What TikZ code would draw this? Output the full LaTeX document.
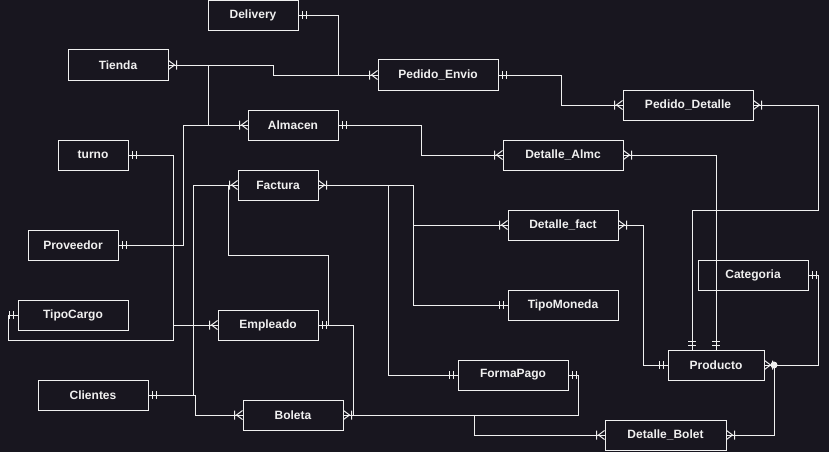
\documentclass[tikz,border=0pt]{standalone}
\usepackage{fontspec}
\setmainfont{Liberation Sans}
\definecolor{bg}{RGB}{24,22,31}
\definecolor{fg}{RGB}{240,240,240}
\begin{document}
\begin{tikzpicture}[x=1pt,y=-1pt,line width=1pt,
  ent/.style={draw=fg,text=fg,font=\bfseries\fontsize{12}{14}\selectfont,minimum height=30pt,inner sep=0pt,line width=1pt},
  conn/.style={draw=fg,line width=1pt},
  erone/.pic={\draw[fg,line width=1pt] (4,-4)--(4,4) (8,-4)--(8,4);},
  ermany/.pic={\draw[fg,line width=1pt] (0,-4.5)--(6,0)--(0,4.5) (8,-4.5)--(8,4.5);}
]
\fill[bg] (0,0) rectangle (829,452);
\useasboundingbox (0,0) rectangle (829,452);

\node[ent,minimum width=90pt] (Delivery) at (253,15.5) {Delivery};
\node[ent,minimum width=100pt] (Tienda) at (118,65) {Tienda};
\node[ent,minimum width=120pt] (PE) at (438,75) {Pedido\_Envio};
\node[ent,minimum width=90pt] (Almacen) at (293,125) {Almacen};
\node[ent,minimum width=70pt] (turno) at (93,155) {turno};
\node[ent,minimum width=80pt] (Factura) at (278,185) {Factura};
\node[ent,minimum width=130pt] (PD) at (688,105) {Pedido\_Detalle};
\node[ent,minimum width=120pt] (DA) at (563,155) {Detalle\_Almc};
\node[ent,minimum width=110pt] (DF) at (563,225) {Detalle\_fact};
\node[ent,minimum width=90pt] (Proveedor) at (73,245) {Proveedor};
\node[ent,minimum width=110pt] (TipoCargo) at (73,315) {TipoCargo};
\node[ent,minimum width=100pt] (Empleado) at (268,325) {Empleado};
\node[ent,minimum width=110pt] (Clientes) at (93,395) {Clientes};
\node[ent,minimum width=100pt] (Boleta) at (293,415) {Boleta};
\node[ent,minimum width=110pt] (Categoria) at (753,275) {Categoria};
\node[ent,minimum width=110pt] (TM) at (563,305) {TipoMoneda};
\node[ent,minimum width=96pt] (Producto) at (716,365) {Producto};
\node[ent,minimum width=110pt] (FP) at (513,375) {FormaPago};
\node[ent,minimum width=121pt] (DB) at (665.5,435) {Detalle\_Bolet};

% connectors
\draw[conn] (Delivery.east) -- (338,15.5) -- (338,75) -- (PE.west);
\draw[conn] (Tienda.east) -- (273,65) -- (273,75) -- (PE.west);
\draw[conn] (Tienda.east) -- (208,65) -- (208,125) -- (Almacen.west);
\draw[conn] (Proveedor.east) -- (183,245) -- (183,125) -- (Almacen.west);
\draw[conn] (Almacen.east) -- (421,125) -- (421,155) -- (DA.west);
\draw[conn] (PE.east) -- (561,75) -- (561,105) -- (PD.west);
\draw[conn] (PD.east) -- (818,105) -- (818,210) -- (692,210) -- ([xshift=-24pt]Producto.north);
\draw[conn] (DA.east) -- (716,155) -- (Producto.north);
\draw[conn] (DF.east) -- (643,225) -- (643,365) -- (Producto.west);
\draw[conn] (Categoria.east) -- (818,275) -- (818,365) -- (Producto.east);
\draw[conn] (DB.east) -- (774,435) -- (774,365) -- (Producto.east);
\fill[fg] (774,365) circle (3.5pt);
\draw[conn] (Factura.east) -- (413,185) -- (413,225) -- (DF.west);
\draw[conn] (Factura.east) -- (413,185) -- (413,305) -- (TM.west);
\draw[conn] (Factura.east) -- (388,185) -- (388,375) -- (FP.west);
\draw[conn] (Factura.west) -- (193,185) -- (193,395) -- (Clientes.east);
\draw[conn] (Clientes.east) -- (195,395) -- (195,415) -- (Boleta.west);
\draw[conn] (Factura.west) -- (228,185) -- (228,255) -- (328,255) -- (328,325) -- (Empleado.east);
\draw[conn] (Empleado.east) -- (353,325) -- (353,415) -- (Boleta.east);
\draw[conn] (Boleta.east) -- (578,415) -- (578,375) -- (FP.east);
\draw[conn] (Boleta.east) -- (474,415) -- (474,435) -- (DB.west);
\draw[conn] (turno.east) -- (173,155) -- (173,325) -- (Empleado.west);
\draw[conn] (TipoCargo.west) -- (8,315) -- (8,340) -- (173,340) -- (173,325) -- (Empleado.west);

% end marks
\pic at (Delivery.east) {erone};
\pic at (Tienda.east) {ermany};
\pic[rotate=180] at (PE.west) {ermany};
\pic[rotate=180] at (Almacen.west) {ermany};
\pic at (Proveedor.east) {erone};
\pic at (Almacen.east) {erone};
\pic[rotate=180] at (DA.west) {ermany};
\pic at (PE.east) {erone};
\pic[rotate=180] at (PD.west) {ermany};
\pic at (PD.east) {ermany};
\pic[rotate=90] at ([xshift=-24pt]Producto.north) {erone};
\pic[rotate=90] at (Producto.north) {erone};
\pic at (DA.east) {ermany};
\pic at (DF.east) {ermany};
\pic[rotate=180] at (Producto.west) {erone};
\pic at (Categoria.east) {erone};
\pic at (Producto.east) {ermany};
\pic at (DB.east) {ermany};
\pic at (Factura.east) {ermany};
\pic[rotate=180] at (DF.west) {ermany};
\pic[rotate=180] at (TM.west) {erone};
\pic[rotate=180] at (FP.west) {erone};
\pic[rotate=180] at (Factura.west) {ermany};
\pic at (Clientes.east) {erone};
\pic[rotate=180] at (Boleta.west) {ermany};
\pic at (Empleado.east) {erone};
\pic at (Boleta.east) {ermany};
\pic at (FP.east) {erone};
\pic[rotate=180] at (DB.west) {ermany};
\pic at (turno.east) {erone};
\pic[rotate=180] at (TipoCargo.west) {erone};
\pic[rotate=180] at (Empleado.west) {ermany};
\end{tikzpicture}
\end{document}
